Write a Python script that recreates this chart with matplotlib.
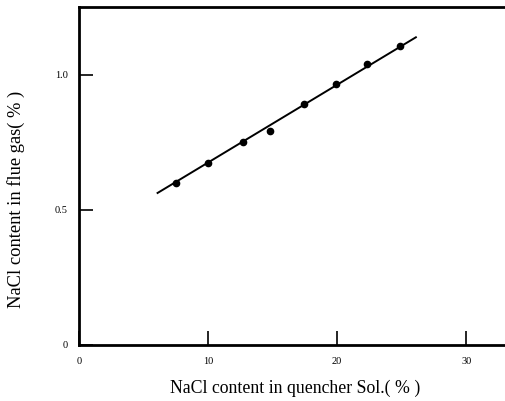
import matplotlib.pyplot as plt

# measured points (NaCl in quencher solution vs NaCl in flue gas)
sol_pct = [7.5, 10.0, 12.7, 14.8, 17.4, 19.9, 22.3, 24.9]
gas_pct = [0.600, 0.672, 0.752, 0.793, 0.893, 0.967, 1.041, 1.104]

# fitted straight line, end points
fit_x = [6.1, 26.1]
fit_y = [0.562, 1.138]

plt.rcParams['font.family'] = ['Liberation Serif', 'DejaVu Serif']

fig = plt.figure(figsize=(5.05, 4.01), dpi=100)
ax = fig.add_axes([0.156, 0.14, 0.844, 0.8425])

ax.plot(fit_x, fit_y, color='black', lw=1.4)
ax.plot(sol_pct, gas_pct, 'o', color='black', markersize=4.5)

ax.set_xlim(0, 33)
ax.set_ylim(0, 1.25)
ax.set_xticks([0, 10, 20, 30])
ax.set_yticks([0, 0.5, 1.0])
ax.set_yticklabels(['0', '0.5', '1.0'])
ax.tick_params(direction='in', length=10, width=1.2, labelsize=7.5, pad=8)
ax.tick_params(axis='x', pad=9)

for side in ['left', 'bottom', 'top']:
    ax.spines[side].set_linewidth(2)
ax.spines['right'].set_visible(False)

ax.set_xlabel('NaCl content in quencher Sol.( % )', fontsize=12.8)
ax.set_ylabel('NaCl content in flue gas( % )', fontsize=13.3)
ax.xaxis.set_label_coords(0.507, -0.104)
ax.yaxis.set_label_coords(-0.126, 0.432)

fig.savefig('out.png', dpi=100)
